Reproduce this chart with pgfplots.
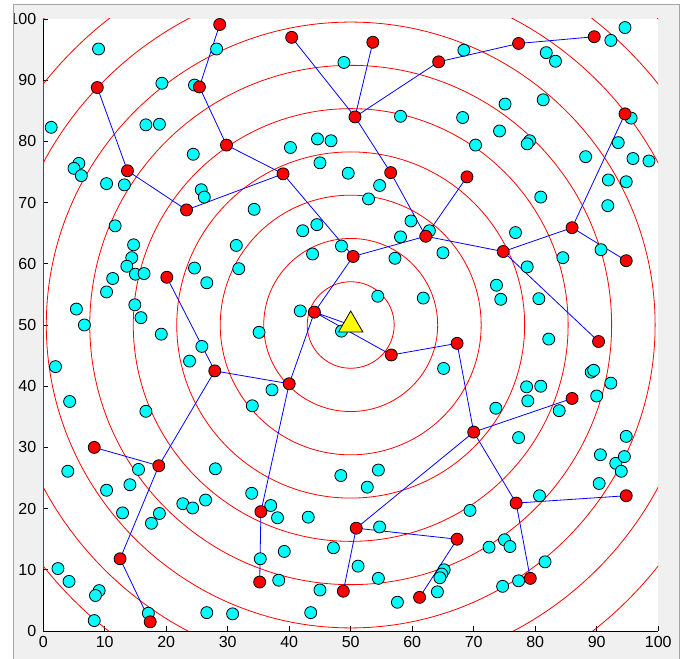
\documentclass[border=0pt]{standalone}
\usepackage{pgfplots}
\pgfplotsset{compat=1.18}
\usepackage{fontspec}
\setmainfont{Liberation Sans}
\definecolor{framegray}{RGB}{240,240,240}
\definecolor{edgegray}{RGB}{165,165,165}
\definecolor{mcyan}{RGB}{0,255,255}
\definecolor{mred}{RGB}{255,0,0}
\definecolor{mblue}{RGB}{0,0,255}
\definecolor{myellow}{RGB}{255,255,0}
\begin{document}
\begin{tikzpicture}[x=1pt,y=1pt]
\path[use as bounding box, fill=white] (0,0) rectangle (686,659);
\begin{scope}
\clip (13,0) rectangle (679,654);
\fill[framegray] (13,0) rectangle (679,654);
\begin{axis}[
  at={(43.2pt,28pt)}, anchor=south west,
  scale only axis, width=615pt, height=612pt,
  xmin=0, xmax=100, ymin=0, ymax=100,
  axis x line=bottom, axis y line=left,
  axis line style={-, black, line width=0.8pt},
  xtick={0,10,...,100}, ytick={0,10,...,100},
  tick align=inside, major tick length=5pt,
  tick style={black, line width=0.8pt},
  ticklabel style={font=\fontsize{16}{18}\selectfont, text=black},
  yticklabel style={xshift=-3.5pt},
  xticklabel style={yshift=-1.5pt},
  /pgf/number format/assume math mode=true,
  axis background/.style={fill=white},
]
% rings around the sink
\pgfplotsinvokeforeach{7.071,14.142,21.213,28.284,35.355,42.426,49.497,56.569,63.640,70.711}{
  \draw[mred, line width=0.8pt] (axis cs:50,50) circle[radius=#1];
}
\addplot[mred, line width=1.6pt] coordinates {(0,10.2) (0,89.8)};
% ordinary nodes
\addplot[only marks, mark=*, mark size=6pt, mark options={fill=mcyan, draw=black, line width=0.8pt}] coordinates {
(9.0,95.1) (19.3,89.5) (24.6,89.2) (28.2,95.1) (48.9,92.9) (1.3,82.3) (16.7,82.7) (18.9,82.8)
(5.8,76.4) (5.0,75.6) (6.2,74.4) (10.3,73.1) (13.2,72.9) (24.4,77.9) (44.6,80.4) (46.8,80.1)
(40.2,79.0) (45.0,76.5) (49.6,74.8) (25.7,72.1) (26.2,70.9) (34.3,68.9) (11.7,66.2) (42.2,65.4)
(44.5,66.4) (48.5,62.9) (43.8,61.6) (31.4,63.0) (31.8,59.2) (24.6,59.3) (26.6,56.9) (14.7,63.1)
(14.4,61.0) (13.6,59.6) (15.0,58.3) (16.4,58.4) (11.3,57.6) (10.3,55.4) (5.4,52.6) (14.9,53.3)
(15.9,51.2) (6.7,50.0) (41.8,52.3) (19.2,48.5) (35.1,48.8)
(94.6,98.6) (92.3,96.5) (68.4,94.9) (81.8,94.5) (83.3,93.1) (75.1,86.1) (81.3,86.8) (58.1,84.1)
(68.2,83.9) (74.2,81.7) (70.3,79.4) (79.1,80.1) (78.7,79.6) (95.6,83.8) (93.5,79.8) (88.2,77.5)
(95.9,77.2) (98.5,76.8) (54.7,72.8) (52.9,70.6) (91.9,73.7) (94.8,73.4) (91.8,69.5) (80.9,70.9)
(59.8,67.0) (62.8,65.4) (58.1,64.4) (76.8,65.1) (57.2,60.9) (65.0,61.8) (78.7,59.5) (84.5,61.0)
(90.7,62.3) (73.7,56.5) (74.4,54.2) (80.6,54.3) (54.4,54.7) (61.8,54.4)
(25.8,46.5) (23.8,44.1) (2.0,43.2) (4.3,37.5) (16.7,35.9) (37.2,39.4) (34.0,36.8) (48.4,25.4)
(4.0,26.1) (15.5,26.4) (28.0,26.5) (10.3,23.0) (14.1,23.9) (22.7,20.8) (24.3,20.1) (26.4,21.4)
(33.9,22.5) (37.0,20.5) (38.1,18.5) (43.1,18.6) (12.9,19.3) (18.9,19.2) (17.6,17.6) (47.2,13.6)
(39.2,13.0) (35.3,11.8) (2.4,10.2) (4.2,8.1) (9.1,6.6) (8.5,5.8) (38.3,8.3) (45.0,6.7)
(8.3,1.7) (17.1,2.9) (26.6,3.0) (30.8,2.8) (43.5,3.0) (48.5,49.0)
(82.2,47.7) (65.1,42.9) (78.6,39.9) (80.9,40.0) (78.8,37.6) (73.6,36.4) (83.9,36.0) (89.1,42.3)
(89.5,42.6) (92.3,40.5) (90.0,38.4) (77.3,31.6) (94.8,31.8) (90.6,28.8) (93.1,27.4) (94.5,28.5)
(94.0,26.1) (90.4,24.1) (52.7,23.5) (54.5,26.3) (80.7,22.1) (69.4,19.7) (54.7,17.0) (72.5,13.7)
(75.0,14.9) (75.9,13.8) (81.6,11.3) (51.2,10.6) (54.5,8.6) (65.2,10.0) (64.8,9.3) (64.5,8.7)
(64.1,6.4) (57.6,4.7) (74.7,7.3) (77.3,8.2)
};
% cluster heads / relay nodes
\addplot[only marks, mark=*, mark size=6pt, mark options={fill=mred, draw=black, line width=0.8pt}] coordinates {
(28.7,99.1) (40.4,97.0) (8.8,88.8) (25.4,88.9) (29.8,79.4) (13.7,75.2) (39.0,74.7) (23.3,68.8)
(20.1,57.8) (44.1,52.1)
(53.6,96.2) (64.3,93.0) (77.3,96.0) (89.6,97.1) (50.7,84.0) (94.6,84.5) (56.5,74.9) (68.9,74.2)
(62.2,64.5) (50.4,61.2) (74.8,62.0) (86.0,65.9) (94.8,60.5)
(27.9,42.5) (40.0,40.4) (8.3,30.0) (18.8,27.0) (35.4,19.5) (12.5,11.8) (35.2,8.0) (17.4,1.5)
(48.8,6.5)
(56.6,45.1) (67.3,47.0) (90.3,47.3) (86.0,38.0) (70.0,32.5) (76.9,20.9) (94.8,22.1) (50.9,16.8)
(67.3,15.0) (61.2,5.5) (79.2,8.6)
};
% sink
\addplot[only marks, mark=triangle*, mark size=14pt, mark options={fill=myellow, draw=black, line width=0.8pt}] coordinates {(50,50)};
% routing tree
\addplot[mblue, line width=0.8pt, unbounded coords=jump] coordinates {
(50,50) (44.1,52.1) (56.6,45.1) (nan,nan)
(40.0,40.4) (44.1,52.1) (50.4,61.2) (62.2,64.5) (nan,nan)
(50.4,61.2) (39.0,74.7) (29.8,79.4) (25.4,88.9) (28.7,99.1) (nan,nan)
(39.0,74.7) (23.3,68.8) (13.7,75.2) (8.8,88.8) (nan,nan)
(62.2,64.5) (56.5,74.9) (50.7,84.0) (40.4,97.0) (nan,nan)
(50.7,84.0) (53.6,96.2) (nan,nan)
(50.7,84.0) (64.3,93.0) (77.3,96.0) (89.6,97.1) (nan,nan)
(62.2,64.5) (68.9,74.2) (nan,nan)
(62.2,64.5) (74.8,62.0) (86.0,65.9) (94.6,84.5) (nan,nan)
(86.0,65.9) (94.8,60.5) (nan,nan)
(74.8,62.0) (90.3,47.3) (nan,nan)
(56.6,45.1) (67.3,47.0) (70.0,32.5) (86.0,38.0) (nan,nan)
(70.0,32.5) (76.9,20.9) (94.8,22.1) (nan,nan)
(76.9,20.9) (79.2,8.6) (nan,nan)
(70.0,32.5) (50.9,16.8) (67.3,15.0) (61.2,5.5) (nan,nan)
(50.9,16.8) (48.8,6.5) (nan,nan)
(40.0,40.4) (27.9,42.5) (20.1,57.8) (nan,nan)
(40.0,40.4) (35.4,19.5) (35.2,8.0) (nan,nan)
(27.9,42.5) (18.8,27.0) (8.3,30.0) (nan,nan)
(18.8,27.0) (12.5,11.8) (17.4,1.5)
};
\end{axis}
\end{scope}
\draw[edgegray, line width=1pt] (13,0) -- (13,654) -- (679,654) -- (679,0);
\end{tikzpicture}
\end{document}
